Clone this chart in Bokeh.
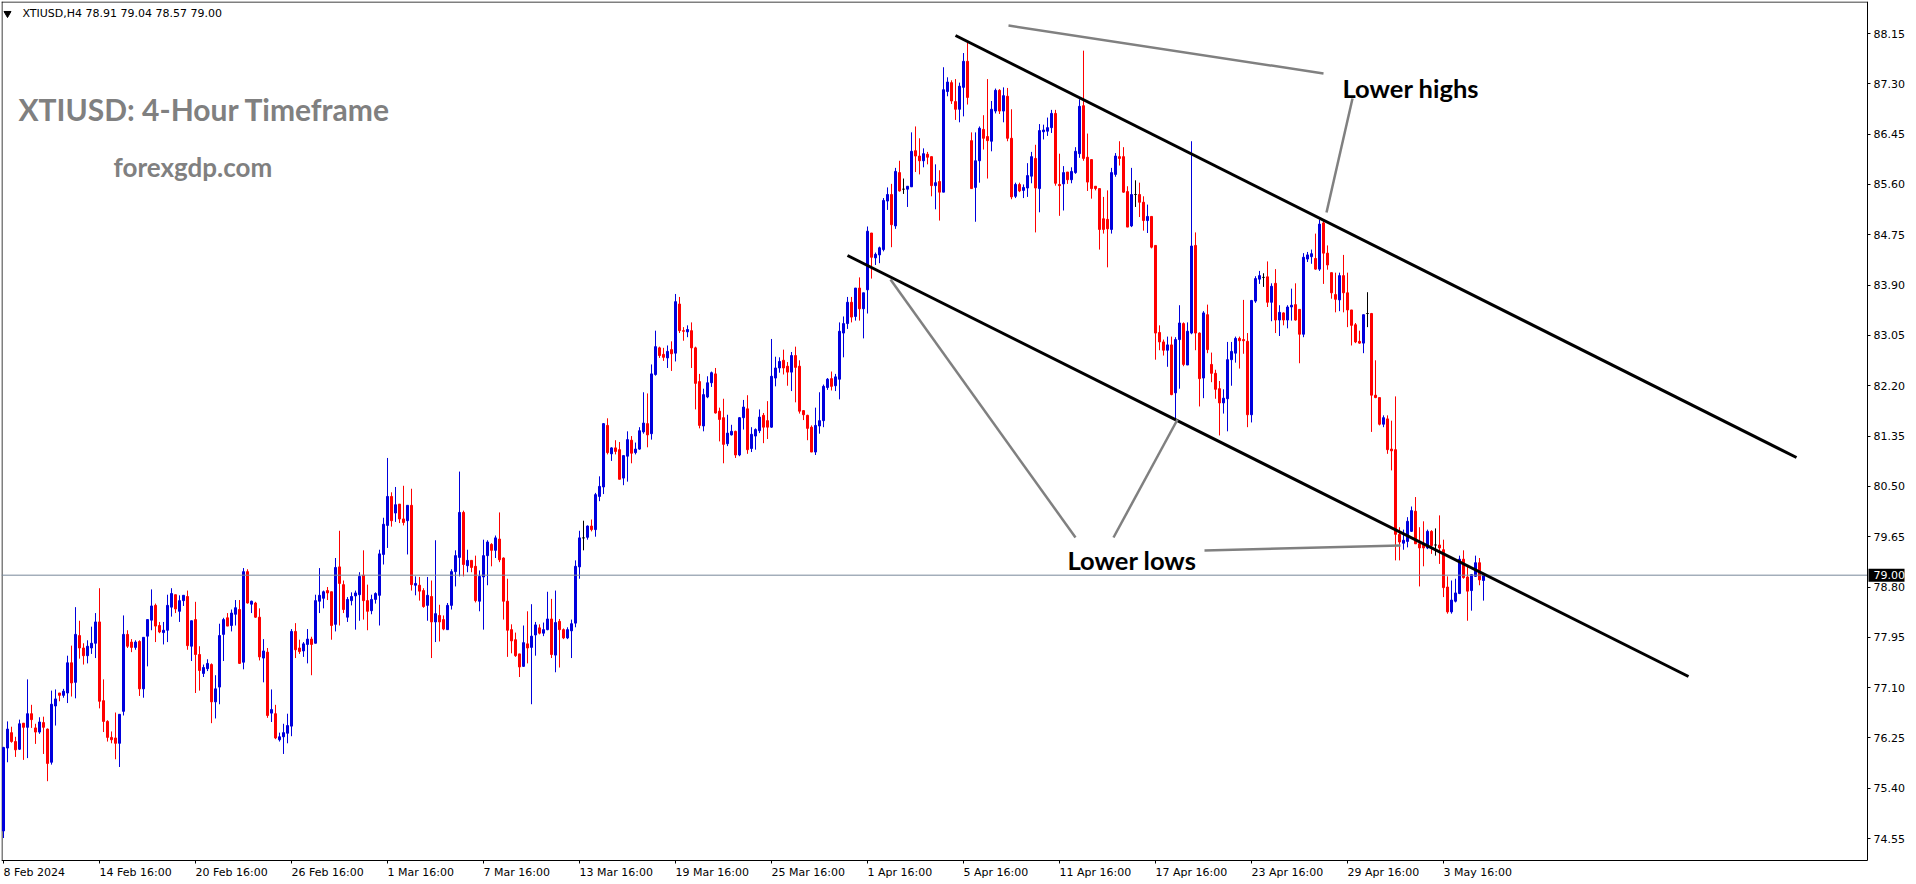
from bokeh.plotting import figure
from bokeh.models import ColumnDataSource, Range1d, FixedTicker, PrintfTickFormatter
from bokeh.core.properties import value
from bokeh.embed import file_html
from bokeh.resources import INLINE

symbol = "XTIUSD"
timeframe = "H4"

opens = [
    74.68, 76.08, 76.34, 76.19, 76.06, 76.50, 76.43, 76.66, 76.42, 76.35, 76.51, 76.40,
    75.84, 76.79, 77.01, 76.97, 77.01, 77.52, 77.19, 77.98, 77.77, 77.64, 77.77, 77.85,
    78.21, 76.88, 76.53, 76.26, 76.25, 76.16, 76.70, 78.00, 77.87, 77.78, 77.88, 77.08,
    77.97, 78.24, 78.49, 78.15, 78.03, 78.07, 78.46, 78.67, 78.39, 78.57, 78.64, 77.80,
    78.25, 77.66, 77.34, 77.42, 77.49, 76.86, 77.11, 78.00, 78.28, 78.15, 78.34, 78.42,
    77.53, 79.06, 78.51, 78.53, 78.29, 77.60, 77.70, 76.67, 76.66, 76.22, 76.27, 76.33,
    76.45, 78.05, 77.77, 77.72, 77.83, 77.92, 77.85, 78.56, 78.61, 78.74, 78.72, 78.17,
    79.14, 78.84, 78.29, 78.57, 78.65, 78.67, 79.00, 78.57, 78.40, 78.59, 78.66, 79.35,
    79.84, 80.33, 80.05, 80.20, 79.95, 79.92, 80.18, 78.83, 78.83, 78.74, 78.49, 78.64,
    78.21, 78.32, 78.25, 78.08, 78.49, 79.06, 79.30, 80.06, 79.16, 79.25, 79.15, 78.56,
    78.97, 79.33, 79.52, 79.42, 79.61, 79.29, 78.56, 78.08, 77.91, 77.67, 77.46, 77.84,
    77.78, 77.99, 78.11, 78.02, 78.08, 78.26, 77.65, 78.22, 78.08, 77.94, 78.06, 78.19,
    79.14, 79.63, 79.64, 79.83, 79.77, 80.33, 80.49, 81.53, 81.05, 81.15, 81.12, 80.64,
    81.01, 81.28, 81.07, 81.13, 81.42, 81.56, 81.39, 82.39, 82.84, 82.73, 82.67, 82.81,
    82.75, 83.58, 83.13, 83.11, 83.13, 82.84, 82.27, 81.52, 82.01, 82.25, 82.40, 81.77,
    81.66, 81.22, 81.37, 81.43, 81.03, 81.66, 81.81, 81.14, 81.35, 81.44, 81.70, 81.61,
    81.50, 82.33, 82.50, 82.63, 82.53, 82.43, 82.71, 82.53, 81.78, 81.70, 81.50, 81.08,
    81.52, 81.61, 82.17, 82.32, 82.20, 82.31, 83.09, 83.25, 83.61, 83.37, 83.85, 83.50,
    83.82, 84.78, 84.36, 84.41, 84.50, 85.32, 85.43, 84.90, 85.80, 85.52, 85.52, 85.56,
    86.17, 86.08, 86.00, 86.11, 86.07, 85.58, 85.65, 85.47, 87.17, 87.32, 87.00, 86.87,
    87.24, 87.68, 86.34, 85.55, 86.00, 86.53, 86.41, 86.33, 86.84, 87.19, 86.84, 87.09,
    86.38, 85.40, 85.60, 85.50, 85.54, 85.74, 86.04, 85.53, 86.49, 86.50, 86.56, 86.80,
    85.60, 85.61, 85.81, 85.68, 85.80, 86.12, 86.93, 86.06, 86.02, 85.57, 85.53, 85.02,
    85.01, 84.84, 85.77, 86.07, 86.07, 85.48, 84.90, 85.43, 85.43, 85.30, 84.99, 85.06,
    84.57, 83.10, 82.94, 82.80, 82.89, 82.08, 82.98, 83.25, 82.55, 83.09, 84.57, 83.09,
    82.33, 83.40, 82.56, 82.41, 82.15, 81.91, 81.98, 82.64, 82.75, 83.00, 82.98, 82.95,
    81.71, 83.63, 84.00, 84.03, 84.04, 83.61, 83.93, 83.31, 83.43, 83.31, 83.53, 83.57,
    83.49, 83.07, 84.34, 84.38, 84.35, 84.17, 84.95, 84.44, 84.11, 83.74, 83.65, 84.06,
    83.77, 83.48, 83.23, 82.95, 82.92, 83.42, 83.42, 82.04, 82.00, 81.55, 81.64, 81.13,
    81.12, 79.69, 79.54, 79.57, 79.74, 80.08, 79.53, 79.54, 79.46, 79.74, 79.51, 79.51,
    79.43, 78.80, 78.38, 78.56, 78.69, 79.27, 78.97, 78.74, 78.98, 79.21, 78.91,
]

highs = [
    76.10, 76.53, 76.44, 76.27, 76.56, 76.50, 77.24, 76.81, 76.49, 76.60, 76.61, 76.41,
    77.05, 77.07, 77.01, 77.08, 77.64, 77.81, 78.46, 78.23, 77.85, 77.90, 78.13, 78.36,
    78.78, 77.24, 76.55, 76.36, 76.68, 76.65, 78.32, 78.07, 77.92, 77.90, 77.90, 77.95,
    78.25, 78.76, 78.52, 78.21, 78.21, 78.67, 78.78, 78.67, 78.66, 78.66, 78.74, 78.23,
    78.55, 77.80, 77.49, 77.58, 77.51, 77.31, 78.18, 78.28, 78.36, 78.42, 78.58, 78.58,
    79.12, 79.10, 78.57, 78.55, 78.44, 77.92, 77.77, 77.07, 76.81, 76.34, 76.49, 76.66,
    78.09, 78.19, 77.91, 77.87, 78.09, 77.96, 78.67, 79.12, 78.74, 78.80, 78.72, 79.29,
    79.75, 78.91, 78.63, 78.71, 78.74, 79.05, 79.42, 78.84, 78.67, 78.71, 79.43, 79.97,
    80.98, 80.40, 80.49, 80.20, 80.51, 80.18, 80.46, 78.98, 78.97, 78.78, 78.97, 78.91,
    79.59, 78.50, 78.32, 78.53, 79.10, 79.42, 80.75, 80.09, 79.43, 79.25, 79.33, 79.08,
    79.60, 79.59, 79.54, 79.67, 80.06, 79.30, 78.94, 78.17, 78.03, 77.67, 78.15, 78.39,
    78.51, 78.21, 78.17, 78.20, 78.72, 78.60, 78.74, 78.26, 78.10, 78.12, 78.25, 79.25,
    79.75, 79.92, 79.84, 79.94, 80.39, 80.67, 81.57, 81.65, 81.16, 81.28, 81.25, 81.02,
    81.43, 81.35, 81.24, 81.50, 82.09, 82.07, 82.56, 83.13, 82.86, 82.84, 82.88, 82.95,
    83.75, 83.70, 83.19, 83.22, 83.27, 82.86, 82.40, 82.15, 82.36, 82.44, 82.50, 81.83,
    81.98, 81.71, 81.54, 81.44, 81.67, 81.96, 82.04, 81.50, 81.48, 81.80, 81.74, 81.94,
    82.99, 82.69, 82.68, 82.81, 82.60, 82.77, 82.86, 82.63, 81.79, 81.71, 81.53, 81.83,
    82.09, 82.22, 82.33, 82.44, 82.40, 83.27, 83.37, 83.70, 83.70, 83.85, 84.03, 83.77,
    84.89, 84.78, 84.45, 84.55, 85.37, 85.55, 85.61, 85.88, 86.00, 85.70, 85.57, 86.48,
    86.58, 86.38, 86.21, 86.15, 86.07, 85.94, 85.84, 87.58, 87.41, 87.36, 87.38, 87.32,
    87.82, 88.00, 86.48, 86.48, 86.58, 86.77, 87.38, 87.01, 87.22, 87.21, 87.24, 87.23,
    86.87, 85.63, 85.63, 85.60, 85.96, 86.15, 86.27, 86.62, 86.61, 86.73, 86.86, 86.86,
    86.12, 85.91, 85.81, 85.89, 86.23, 87.04, 87.86, 86.46, 86.02, 85.57, 85.53, 85.39,
    85.50, 85.88, 86.13, 86.33, 86.23, 85.57, 85.88, 85.67, 85.63, 85.40, 85.26, 85.06,
    84.57, 83.22, 82.98, 83.03, 83.03, 83.02, 83.56, 83.27, 83.27, 86.33, 84.79, 83.10,
    83.46, 83.57, 82.76, 82.47, 82.28, 82.14, 82.94, 82.94, 83.03, 83.03, 83.65, 83.09,
    83.65, 84.05, 84.14, 84.10, 84.30, 83.93, 84.17, 83.56, 83.44, 83.56, 83.84, 83.93,
    83.49, 84.44, 84.46, 84.50, 84.77, 85.00, 84.99, 84.57, 84.11, 84.11, 84.11, 84.41,
    84.11, 83.48, 83.26, 83.13, 83.40, 83.78, 83.43, 82.63, 82.00, 81.70, 81.70, 81.61,
    82.02, 79.81, 79.77, 79.98, 80.16, 80.32, 79.81, 79.91, 79.77, 79.76, 79.79, 80.01,
    79.60, 78.98, 78.91, 78.94, 79.33, 79.42, 79.14, 79.02, 79.33, 79.29, 79.04,
]

lows = [
    74.56, 75.84, 76.17, 75.93, 76.05, 75.88, 75.91, 76.42, 76.15, 76.32, 75.98, 75.52,
    75.80, 76.46, 76.87, 76.93, 76.84, 76.95, 76.92, 77.59, 77.49, 77.51, 77.67, 77.60,
    76.75, 76.35, 76.19, 76.16, 75.89, 75.76, 76.63, 77.77, 77.70, 77.74, 76.96, 76.93,
    77.46, 78.07, 77.87, 78.02, 77.83, 77.87, 78.30, 78.36, 78.21, 78.48, 77.74, 77.55,
    77.01, 77.05, 77.28, 77.38, 76.50, 76.58, 76.82, 77.55, 78.14, 78.05, 78.15, 77.50,
    77.41, 78.52, 78.36, 78.28, 77.56, 77.19, 76.59, 76.52, 76.23, 76.19, 75.98, 76.16,
    76.28, 77.60, 77.67, 77.62, 77.51, 77.31, 77.85, 78.36, 78.44, 78.58, 77.91, 78.05,
    78.15, 78.36, 78.21, 78.49, 78.08, 78.23, 78.25, 78.07, 78.34, 78.52, 78.15, 79.18,
    79.46, 79.82, 79.90, 79.88, 79.84, 79.35, 78.74, 78.66, 78.57, 78.45, 78.23, 77.60,
    77.87, 77.88, 78.07, 78.08, 78.42, 78.81, 78.98, 78.98, 79.05, 79.05, 78.54, 78.39,
    78.08, 78.83, 79.15, 79.29, 79.22, 78.25, 77.62, 77.68, 77.62, 77.28, 77.45, 77.51,
    76.82, 77.64, 78.00, 77.97, 78.07, 77.60, 77.36, 77.44, 77.92, 77.92, 77.60, 78.12,
    78.94, 79.42, 79.60, 79.74, 79.65, 80.25, 80.37, 81.04, 80.93, 81.04, 80.62, 80.52,
    80.58, 80.89, 81.04, 81.12, 81.39, 81.16, 81.29, 82.37, 82.67, 82.62, 82.50, 82.45,
    82.61, 83.09, 82.96, 83.02, 82.50, 81.80, 81.48, 81.43, 81.99, 82.18, 81.73, 81.26,
    80.89, 81.18, 81.36, 80.98, 81.01, 81.46, 81.05, 81.08, 81.12, 81.40, 81.23, 81.30,
    81.49, 82.19, 82.42, 82.39, 82.20, 82.11, 81.92, 81.73, 81.62, 81.28, 81.08, 81.03,
    81.39, 81.50, 82.13, 82.12, 82.11, 81.97, 82.68, 83.16, 83.27, 83.30, 83.30, 83.00,
    83.42, 84.01, 84.24, 84.27, 84.47, 85.17, 84.54, 84.85, 85.48, 85.44, 85.22, 85.56,
    85.81, 85.77, 85.89, 85.94, 85.40, 85.18, 84.99, 85.47, 87.09, 86.96, 86.69, 86.65,
    86.75, 86.95, 85.53, 84.97, 85.63, 86.19, 85.70, 86.16, 86.80, 86.79, 86.65, 86.33,
    85.35, 85.37, 85.47, 85.37, 85.39, 85.62, 84.79, 85.13, 86.36, 86.42, 86.47, 85.58,
    85.07, 85.16, 85.61, 85.62, 85.78, 86.05, 86.00, 85.49, 85.36, 85.50, 84.50, 84.77,
    84.20, 84.77, 85.73, 85.92, 85.46, 84.88, 84.88, 85.22, 85.05, 84.82, 84.78, 84.52,
    82.64, 82.80, 82.71, 82.52, 82.04, 81.61, 82.15, 82.53, 82.55, 83.07, 82.80, 81.85,
    81.99, 82.75, 82.26, 81.98, 81.36, 81.73, 81.43, 82.20, 82.59, 82.49, 82.74, 81.50,
    81.58, 83.60, 83.92, 83.87, 83.53, 83.29, 83.09, 83.04, 83.22, 83.17, 83.30, 83.30,
    82.58, 83.02, 84.29, 84.26, 84.16, 84.14, 83.92, 84.16, 83.67, 83.44, 83.46, 83.44,
    83.19, 82.88, 82.92, 82.91, 82.75, 83.19, 81.42, 81.99, 81.53, 81.50, 81.05, 80.77,
    79.25, 79.25, 79.43, 79.47, 79.73, 79.53, 78.81, 79.15, 79.44, 79.36, 79.33, 79.19,
    78.63, 78.35, 78.35, 78.54, 78.68, 78.94, 78.23, 78.40, 78.97, 78.83, 78.57,
]

closes = [
    76.09, 76.40, 76.19, 76.05, 76.49, 76.43, 76.66, 76.56, 76.35, 76.52, 76.43, 75.82,
    76.82, 76.91, 76.97, 77.04, 77.52, 77.18, 78.00, 77.77, 77.64, 77.80, 77.85, 78.21,
    76.87, 76.53, 76.26, 76.22, 76.16, 76.65, 78.00, 77.80, 77.78, 77.87, 77.08, 77.95,
    78.25, 78.48, 78.14, 78.04, 78.07, 78.49, 78.69, 78.43, 78.57, 78.66, 77.81, 78.23,
    77.66, 77.39, 77.44, 77.51, 76.86, 77.08, 77.98, 78.25, 78.14, 78.36, 78.45, 77.51,
    79.06, 78.53, 78.56, 78.29, 77.62, 77.72, 76.63, 76.73, 76.25, 76.27, 76.34, 76.46,
    78.05, 77.74, 77.71, 77.84, 77.92, 77.83, 78.57, 78.66, 78.72, 78.70, 78.15, 79.13,
    78.86, 78.42, 78.59, 78.64, 78.70, 78.98, 78.57, 78.39, 78.59, 78.69, 79.36, 79.86,
    80.33, 79.92, 80.19, 79.95, 79.89, 80.18, 78.84, 78.86, 78.73, 78.47, 78.66, 78.21,
    78.35, 78.21, 78.09, 78.49, 79.06, 79.33, 80.06, 79.18, 79.25, 79.13, 78.57, 78.98,
    79.33, 79.56, 79.42, 79.63, 79.26, 78.56, 78.07, 77.89, 77.64, 77.45, 77.86, 77.77,
    77.97, 78.16, 78.02, 78.08, 78.26, 77.66, 78.20, 78.08, 77.94, 78.08, 78.18, 79.15,
    79.63, 79.63, 79.83, 79.77, 80.36, 80.50, 81.56, 81.07, 81.15, 81.09, 80.62, 81.02,
    81.29, 81.06, 81.13, 81.44, 81.57, 81.37, 82.40, 82.86, 82.71, 82.68, 82.78, 82.74,
    83.62, 83.13, 83.12, 83.15, 82.84, 82.24, 81.53, 82.05, 82.25, 82.42, 81.74, 81.63,
    81.21, 81.40, 81.43, 81.03, 81.66, 81.84, 81.12, 81.38, 81.46, 81.67, 81.50, 81.50,
    82.36, 82.50, 82.61, 82.50, 82.43, 82.71, 82.51, 81.77, 81.71, 81.48, 81.08, 81.53,
    81.61, 82.19, 82.31, 82.19, 82.35, 83.12, 83.25, 83.61, 83.36, 83.85, 83.50, 83.77,
    84.81, 84.37, 84.42, 84.53, 85.33, 85.43, 84.92, 85.82, 85.49, 85.52, 85.57, 86.16,
    86.08, 86.00, 86.12, 86.06, 85.58, 85.63, 85.47, 87.20, 87.33, 87.01, 86.87, 87.26,
    87.68, 87.07, 85.53, 86.00, 86.55, 86.38, 86.34, 86.87, 87.19, 86.84, 87.10, 86.38,
    85.39, 85.60, 85.49, 85.55, 85.75, 86.07, 85.54, 86.51, 86.52, 86.56, 86.80, 85.62,
    85.58, 85.80, 85.68, 85.82, 86.16, 86.92, 86.04, 85.64, 85.53, 85.53, 84.84, 84.84,
    84.85, 85.80, 86.08, 86.04, 85.47, 84.88, 85.43, 85.43, 85.30, 84.99, 85.06, 84.54,
    83.09, 82.94, 82.80, 82.89, 82.05, 82.98, 83.26, 82.56, 83.12, 84.56, 83.09, 82.32,
    83.43, 82.81, 82.41, 82.14, 81.91, 81.99, 82.64, 82.78, 83.00, 82.96, 82.96, 81.71,
    83.64, 84.01, 84.06, 84.03, 83.61, 83.88, 83.31, 83.44, 83.31, 83.53, 83.56, 83.31,
    83.07, 84.37, 84.41, 84.43, 84.17, 84.93, 84.44, 84.24, 83.77, 83.66, 84.06, 83.77,
    83.48, 83.22, 82.94, 82.92, 83.40, 83.42, 82.04, 82.00, 81.55, 81.66, 81.12, 81.10,
    79.69, 79.56, 79.59, 79.91, 80.09, 79.53, 79.46, 79.46, 79.74, 79.50, 79.51, 79.46,
    78.79, 78.38, 78.58, 78.70, 79.27, 78.96, 78.73, 79.01, 79.21, 78.92, 79.00,
]

# time axis: bar index of each labelled bar and its label
tick_index = [0, 24, 48, 72, 96, 120, 144, 168, 192, 216, 240, 264, 288, 312, 336, 360]
tick_labels = ["8 Feb 2024", "14 Feb 16:00", "20 Feb 16:00", "26 Feb 16:00", "1 Mar 16:00",
               "7 Mar 16:00", "13 Mar 16:00", "19 Mar 16:00", "25 Mar 16:00", "1 Apr 16:00",
               "5 Apr 16:00", "11 Apr 16:00", "17 Apr 16:00", "23 Apr 16:00", "29 Apr 16:00",
               "3 May 16:00"]
price_ticks = [74.55, 75.40, 76.25, 77.10, 77.95, 78.80, 79.65, 80.50, 81.35, 82.20,
               83.05, 83.90, 84.75, 85.60, 86.45, 87.30, 88.15]

UP, DOWN, FLAT = "#0000DD", "#FF0000", "#000000"

n = len(closes)
idx = list(range(n))
colors = [UP if c > o else (DOWN if c < o else FLAT) for o, c in zip(opens, closes)]
src = ColumnDataSource(dict(
    x=idx,
    top=[max(o, c) for o, c in zip(opens, closes)],
    bottom=[min(o, c) for o, c in zip(opens, closes)],
    hi=[max(h, o, c) for h, o, c in zip(highs, opens, closes)],
    lo=[min(l, o, c) for l, o, c in zip(lows, opens, closes)],
    color=colors,
))

# reference-pixel -> data helpers for annotation placement
def ix(px):
    return (px - 3) / 4.0

def pr(py):
    return 88.15 - (py - 33) / 59.2

W, H = 1912, 883
X_START, X_EDGE, X_END = ix(1), ix(1867), ix(W)
Y_TOP, Y_EDGE, Y_LO = pr(1), pr(860), pr(H)

# The frame also covers the price-scale strip and the date strip; both axes are pinned
# at the chart's right and bottom edges, as in the MT4 window.
p = figure(width=W, height=H, output_backend="svg", toolbar_location=None,
           x_range=Range1d(X_START, X_END), y_range=Range1d(Y_LO, Y_TOP),
           y_axis_location="right",
           min_border_left=1, min_border_top=1, min_border_right=0, min_border_bottom=0)
p.background_fill_color = "white"
p.border_fill_color = "white"
p.outline_line_color = None
p.grid.visible = False

# chart border (top and left); bottom = date axis line, right = price axis line
p.line([X_START, X_EDGE], [pr(1.5), pr(1.5)], line_color="black", line_width=1)
p.line([ix(1.5), ix(1.5)], [Y_EDGE, Y_TOP], line_color="black", line_width=1)

p.segment(x0="x", y0="lo", x1="x", y1="hi", line_color="color", line_width=1, source=src)
p.vbar(x="x", width=0.5, top="top", bottom="bottom", fill_color="color",
       line_color="color", line_width=1, source=src)

# current price line
p.line([X_START, X_EDGE], [closes[-1], closes[-1]], line_color="#778899", line_width=1)

# axes
yax = p.yaxis[0]
yax.fixed_location = X_EDGE
yax.bounds = (Y_EDGE, Y_TOP)
yax.ticker = FixedTicker(ticks=price_ticks)
yax.formatter = PrintfTickFormatter(format="%.2f")
xax = p.xaxis[0]
xax.fixed_location = Y_EDGE
xax.bounds = (X_START, X_EDGE)
xax.ticker = FixedTicker(ticks=tick_index)
xax.major_label_overrides = {t: lab for t, lab in zip(tick_index, tick_labels)}
for ax in (xax, yax):
    ax.axis_line_color = "black"
    ax.major_tick_line_color = "black"
    ax.minor_tick_line_color = None
    ax.major_tick_in = 0
    ax.major_tick_out = 3
    ax.major_label_text_font = "DejaVu Sans"
    ax.major_label_text_font_size = "11px"
    ax.major_label_text_color = "black"
yax.major_label_standoff = 3
# a vanishingly small tilt makes the date labels start at their tick (MT4 style)
xax.major_label_orientation = -1e-6
xax.major_label_standoff = 9

# current price box on the price scale
p.rect(x=[ix(1886)], y=[closes[-1]], width=9, height=13, height_units="screen",
       fill_color="black", line_color=None, level="overlay")
p.text(x=[ix(1873)], y=[closes[-1]], text=[f"{closes[-1]:.2f}"], text_color="white",
       text_font=value("DejaVu Sans"), text_font_size="11px", text_baseline="middle",
       text_align="left", level="overlay")

# channel lines
p.line([ix(955), ix(1796)], [pr(35), pr(457)], line_color="black", line_width=3)
p.line([ix(847), ix(1688)], [pr(255), pr(676)], line_color="black", line_width=3)

# pointer lines
G = "#808080"
p.line([ix(1008), ix(1323)], [pr(25), pr(73)], line_color=G, line_width=2.5)
p.line([ix(1352), ix(1326)], [pr(98), pr(212)], line_color=G, line_width=2.5)
p.line([ix(890), ix(1075)], [pr(279), pr(537)], line_color=G, line_width=2.5)
p.line([ix(1177), ix(1113)], [pr(419), pr(537)], line_color=G, line_width=2.5)
p.line([ix(1204), ix(1400)], [pr(550), pr(545)], line_color=G, line_width=2.5)

p.text(x=[ix(1342)], y=[pr(87)], text=["Lower highs"], text_font=value("Lato"),
       text_font_style="bold", text_font_size="25.5px", text_color="black",
       text_baseline="alphabetic", text_align="left")
p.text(x=[ix(1067)], y=[pr(559)], text=["Lower lows"], text_font=value("Lato"),
       text_font_style="bold", text_font_size="25.5px", text_color="black",
       text_baseline="alphabetic", text_align="left")

p.text(x=[ix(18)], y=[pr(108)], text=[f"{symbol}: 4-Hour Timeframe"], text_font=value("Lato"),
       text_font_style="bold", text_font_size="30px", text_color="#808080",
       text_baseline="alphabetic", text_align="left")
p.text(x=[ix(113)], y=[pr(166)], text=["forexgdp.com"], text_font=value("Lato"),
       text_font_style="bold", text_font_size="26px", text_color="#808080",
       text_baseline="alphabetic", text_align="left")

# header line
p.scatter(x=[ix(7)], y=[pr(13)], marker="inverted_triangle", size=7, fill_color="black",
          line_color="black")
p.text(x=[ix(22)], y=[pr(13)],
       text=[f"{symbol},{timeframe}  {opens[-1]:.2f} {highs[-1]:.2f} {lows[-1]:.2f} {closes[-1]:.2f}"],
       text_font=value("DejaVu Sans"), text_font_size="11px", text_color="black",
       text_baseline="middle", text_align="left")

open("out.html", "w").write(file_html(p, INLINE))
